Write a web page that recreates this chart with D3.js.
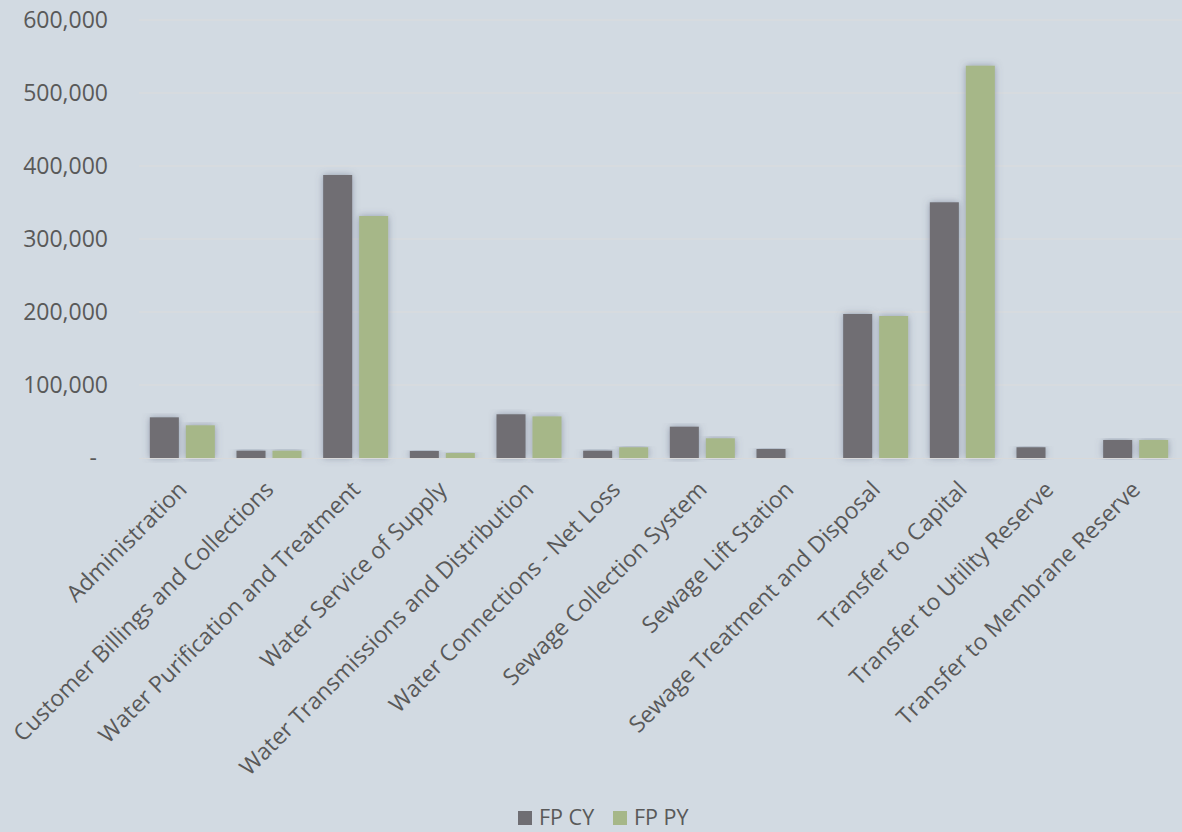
<!DOCTYPE html>
<html><head><meta charset="utf-8">
<script src="https://cdn.jsdelivr.net/npm/d3@7"></script>
<style>html,body{margin:0;padding:0;background:#d2dae2;}svg{display:block;}</style>
</head><body>
<svg id="c" width="1182" height="832"></svg>
<script>
const categories = ["Administration","Customer Billings and Collections","Water Purification and Treatment","Water Service of Supply","Water Transmissions and Distribution","Water Connections - Net Loss","Sewage Collection System","Sewage Lift Station","Sewage Treatment and Disposal","Transfer to Capital","Transfer to Utility Reserve","Transfer to Membrane Reserve"];
const seriesNames = ["FP CY","FP PY"];
const fpCY = [55700,10000,387700,9600,59900,10000,42900,12300,197300,350300,14700,24700];
const fpPY = [44800,10000,331500,6800,57000,14700,27000,0,194500,537400,0,24700];
const yTicks = [0,100000,200000,300000,400000,500000,600000];
const colors = ["#6f6e73","#a6b788"];

const svg = d3.select("#c");
const W = 1182, H = 832;
const m = {left:139, right:1179, top:20, bottom:458};
svg.append("rect").attr("width",W).attr("height",H).attr("fill","#d2dae2");

const defs = svg.append("defs");
const f = defs.append("filter").attr("id","sh").attr("x","-40%").attr("y","-10%").attr("width","180%").attr("height","120%");
f.append("feDropShadow").attr("dx",0).attr("dy",0).attr("stdDeviation",3.5).attr("flood-color","#56607a").attr("flood-opacity",0.5);

const x0 = d3.scaleBand().domain(categories).range([m.left,m.right]).paddingInner(0.25).paddingOuter(0.125);
const x1 = d3.scaleBand().domain(seriesNames).range([0,x0.bandwidth()]).paddingInner(0.194);
const y = d3.scaleLinear().domain([0,600000]).range([m.bottom,m.top]);

// gridlines
svg.append("g").selectAll("line").data(yTicks.filter(d=>d>0)).join("line")
  .attr("x1",m.left).attr("x2",W).attr("y1",d=>y(d)).attr("y2",d=>y(d))
  .attr("stroke","#dcdcdc").attr("stroke-width",1);

// y axis
const yAxis = d3.axisLeft(y).tickValues(yTicks).tickSize(0).tickPadding(0)
  .tickFormat(d=> d===0 ? "-" : d3.format(",")(d));
const ya = svg.append("g").attr("transform","translate(108,0)").call(yAxis);
ya.select(".domain").remove();
ya.selectAll("text").attr("font-family","'Open Sans', sans-serif").attr("font-size",23).attr("fill","#595959")
  .attr("x",d=>d===0?-11:0);

// bars
const data = categories.map((c,i)=>({c, vals:[fpCY[i],fpPY[i]]}));
const g = svg.append("g");
data.forEach(d=>{
  d.vals.forEach((v,k)=>{
    if(v<=0) return;
    g.append("rect")
      .attr("x",x0(d.c)+x1(seriesNames[k]))
      .attr("y",y(v))
      .attr("width",x1.bandwidth())
      .attr("height",y(0)-y(v))
      .attr("fill",colors[k])
      .attr("filter","url(#sh)");
  });
});

// baseline
svg.append("line").attr("x1",m.left).attr("x2",W).attr("y1",y(0)+0.5).attr("y2",y(0)+0.5)
  .attr("stroke","#d9d9d9").attr("stroke-width",1);

// x axis labels
const xAxis = d3.axisBottom(x0).tickSize(0).tickPadding(0);
const xa = svg.append("g").attr("transform",`translate(0,${m.bottom})`).call(xAxis);
xa.select(".domain").remove();
xa.selectAll("text")
  .attr("font-family","'Open Sans', sans-serif").attr("font-size",23).attr("fill","#595959")
  .attr("text-anchor","end").attr("dy",null).attr("y",0)
  .attr("transform","translate(6,33) rotate(-45)");

// legend
const lg = svg.append("g").attr("transform","translate(518,811)");
const items = [{n:seriesNames[0],c:colors[0],x:0},{n:seriesNames[1],c:colors[1],x:95}];
items.forEach(it=>{
  lg.append("rect").attr("x",it.x).attr("y",0).attr("width",14).attr("height",14).attr("fill",it.c);
  lg.append("text").attr("x",it.x+21).attr("y",14).text(it.n)
    .attr("font-family","'Open Sans', sans-serif").attr("font-size",21.5).attr("fill","#595959");
});
</script>
</body></html>
